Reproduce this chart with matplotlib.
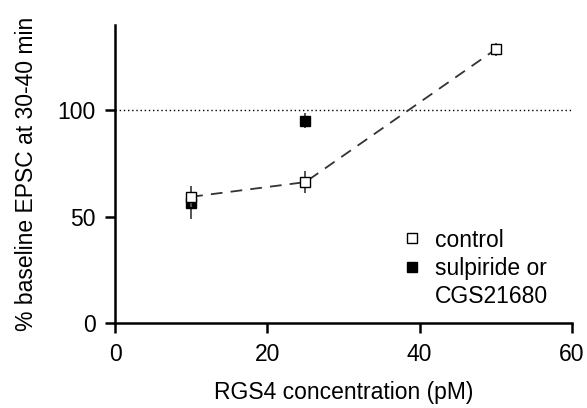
import numpy as np
import matplotlib.pyplot as plt
from matplotlib.lines import Line2D

plt.rcParams['font.family'] = ['Liberation Sans', 'DejaVu Sans']

conc_ctrl = [10, 25, 50]
ctrl = [59.3, 66.2, 128.5]
ctrl_err = [5, 5.2, 3]
conc_drug = [10, 25]
drug = [56.5, 95]
drug_err = [7.8, 3.5]

fig = plt.figure(figsize=(5.87, 4.08), dpi=100)
ax = fig.add_axes([0.196, 0.208, 0.778, 0.731])

ax.axhline(100, color='black', lw=1, ls=(0, (1, 2)), zorder=1)
ax.plot(conc_ctrl, ctrl, color='#333333', lw=1.3, ls=(0, (6.5, 4.5)), zorder=2)
ax.errorbar(conc_drug, drug, yerr=drug_err, fmt='s', color='black', ms=6.5,
            ecolor='#555555', elinewidth=1.4, capsize=0, zorder=3)
ax.errorbar(conc_ctrl, ctrl, yerr=ctrl_err, fmt='s', mfc='white', mec='black',
            ms=6.5, mew=1, ecolor='#555555', elinewidth=1.4, capsize=0, zorder=4)

ax.set_xlim(0, 60)
ax.set_ylim(0, 140)
ax.set_xticks([0, 20, 40, 60])
ax.set_yticks([0, 50, 100])
for s in ['top', 'right']:
    ax.spines[s].set_visible(False)
for s in ['left', 'bottom']:
    ax.spines[s].set_linewidth(1.8)
ax.tick_params(width=1.8, length=7, labelsize=16.5, pad=7)
ax.set_xlabel('RGS4 concentration (pM)', fontsize=16.5, labelpad=11)
ax.set_ylabel('% baseline EPSC at 30-40 min', fontsize=16.5, labelpad=14)

handles = [Line2D([], [], ls='none', marker='s', mfc='white', mec='black', ms=6.5, mew=1),
           Line2D([], [], ls='none', marker='s', color='black', ms=6.5),
           Line2D([], [], ls='none')]
ax.legend(handles, ['control', 'sulpiride or', 'CGS21680'], loc='upper left',
          bbox_to_anchor=(0.611, 0.348), frameon=False, fontsize=16.5,
          handlelength=0.8, handletextpad=0.6, labelspacing=0.22, borderaxespad=0)

fig.savefig('out.png', dpi=100)
